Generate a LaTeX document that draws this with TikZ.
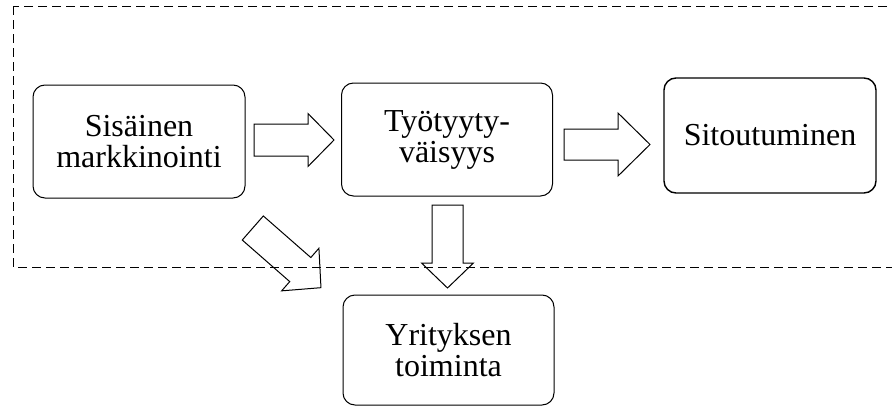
\documentclass[tikz,border=0pt]{standalone}
\usepackage{fontspec}
\setmainfont{Liberation Serif}
\usetikzlibrary{positioning}

\begin{document}
\begin{tikzpicture}[x=1pt,y=-1pt,
  every node/.style={font=\fontsize{32}{31}\selectfont},
  box/.style={draw, rounded corners=12pt, line width=1pt, minimum width=211pt,
    minimum height=112pt, align=center, inner sep=0pt},
  dashedframe/.style={line width=1pt, dash pattern=on 9pt off 5pt},
  arrowline/.style={line width=1pt, line join=miter},
  pics/blockarrow/.style args={#1/#2/#3/#4}{code={
    \draw[arrowline] (0,-#3) -- (#1-#2,-#3) -- (#1-#2,-#4) -- (#1,0)
      -- (#1-#2,#4) -- (#1-#2,#3) -- (0,#3) -- cycle;
  }}]
  \useasboundingbox (0,0) rectangle (892,407);
  \clip (0,0) rectangle (892,407);

  % Dashed area (runs off the right edge)
  \draw[dashedframe] (13,6) rectangle (910,267);

  % Boxes
  \node[box, minimum width=212pt, minimum height=113pt] (sisainen) at (139,141.5) {Sisäinen\\markkinointi};
  \node[box, minimum height=113pt] (tyytyvaisyys) at (447,139.5) {Työtyyty-\\väisyys};
  \node[box, line width=1.4pt, minimum width=212pt, minimum height=115pt] (sitoutuminen) at (770,135.5) {Sitoutuminen};
  \node[box, minimum height=110pt] (toiminta) at (448.5,350) {Yrityksen\\toiminta};

  % Block arrows
  \pic at (254,140) {blockarrow=80/26/16/26.5};
  \pic at (564,144.5) {blockarrow=86/32/15.5/31.5};
  \pic[rotate=-90] at (447.5,205) {blockarrow=83/25/15.5/26};
  \pic[rotate=-41.2] at (252.8,228) {blockarrow=90.6/27.5/16/28.3};
\end{tikzpicture}
\end{document}
